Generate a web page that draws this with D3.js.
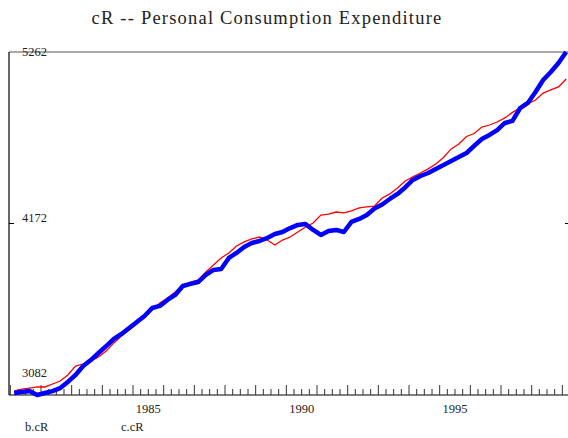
<!DOCTYPE html>
<html>
<head>
<meta charset="utf-8">
<script src="https://cdn.jsdelivr.net/npm/d3@7"></script>
<style>
  body { margin: 0; background: #fff; }
  text { font-family: "Liberation Serif", "Times New Roman", serif; fill: #222; }
</style>
</head>
<body>
<svg id="chart" width="568" height="438"></svg>
<script>
// quarterly, 1981Q1 .. 1999Q1
const startYear = 1981;
const bcR = [3107, 3120, 3126, 3133, 3133, 3152, 3171, 3209, 3266, 3279, 3298, 3324,
  3362, 3413, 3457, 3495, 3533, 3578, 3622, 3667, 3699, 3737, 3781, 3800,
  3813, 3864, 3908, 3953, 3985, 4029, 4055, 4074, 4086, 4067, 4035, 4067,
  4086, 4118, 4150, 4175, 4226, 4232, 4245, 4239, 4252, 4271, 4277, 4283,
  4334, 4360, 4398, 4442, 4468, 4493, 4519, 4550, 4592, 4646, 4677, 4725,
  4744, 4785, 4798, 4817, 4843, 4878, 4906, 4932, 4957, 5001, 5021, 5040, 5090];
const ccR = [3095, 3101, 3107, 3082, 3095, 3107, 3126, 3165, 3209, 3266, 3304, 3349,
  3393, 3438, 3470, 3508, 3546, 3584, 3635, 3648, 3686, 3718, 3775, 3788,
  3800, 3845, 3877, 3883, 3953, 3985, 4023, 4048, 4061, 4080, 4105, 4118,
  4143, 4163, 4169, 4131, 4099, 4124, 4131, 4118, 4182, 4201, 4226, 4267,
  4293, 4328, 4360, 4401, 4449, 4474, 4493, 4519, 4544, 4569, 4595, 4620,
  4665, 4709, 4735, 4766, 4811, 4824, 4906, 4938, 5008, 5084, 5135, 5192, 5262];
const yTicks = [3082, 4172, 5262];
const yearLabels = [1985, 1990, 1995];
const seriesNames = ["b.cR", "c.cR"];

const svg = d3.select("#chart");
const plotL = 9, plotR = 568, plotT = 52, plotB = 395;

const x = d3.scaleLinear().domain([1985, 1997]).range([133, 501]);
const y = d3.scaleLinear().domain([3082, 5262]).range([plotB, plotT]);

const qx = i => x(startYear + (i + 0.5) / 4);

// title
svg.append("text")
  .attr("x", 267).attr("y", 24)
  .attr("text-anchor", "middle")
  .attr("font-size", 18.5)
  .attr("letter-spacing", 1.2)
  .text("cR -- Personal Consumption Expenditure");

// frame
svg.append("line").attr("x1", plotL).attr("x2", plotR).attr("y1", plotT).attr("y2", plotT)
  .attr("stroke", "#555").attr("stroke-width", 1);
svg.append("line").attr("x1", plotL).attr("x2", plotL).attr("y1", plotT).attr("y2", plotB)
  .attr("stroke", "#000").attr("stroke-width", 1.2);
svg.append("line").attr("x1", plotL).attr("x2", plotR).attr("y1", plotB).attr("y2", plotB)
  .attr("stroke", "#000").attr("stroke-width", 1.2);

// y ticks and labels
svg.append("line").attr("x1", plotL).attr("x2", plotL + 5)
  .attr("y1", y(4172)).attr("y2", y(4172)).attr("stroke", "#000");
svg.append("line").attr("x1", plotR - 3).attr("x2", plotR)
  .attr("y1", y(4172)).attr("y2", y(4172)).attr("stroke", "#000");
svg.selectAll(".ylab").data(yTicks).enter().append("text")
  .attr("class", "ylab")
  .attr("x", 22)
  .attr("y", d => d === 3082 ? y(d) - 18 : (d === 5262 ? y(d) + 4 : y(d) - 2))
  .attr("font-size", 12.5)
  .text(d => d);

// x ticks: quarters, taller at year starts
const quarterTicks = d3.range(0, 73).map(i => startYear + i / 4);
svg.selectAll(".xtick").data(quarterTicks).enter().append("line")
  .attr("class", "xtick")
  .attr("x1", d => x(d)).attr("x2", d => x(d))
  .attr("y1", (d, i) => i % 4 === 0 ? plotB - 10 : plotB - 6)
  .attr("y2", plotB)
  .attr("stroke", "#333").attr("stroke-width", 1);

svg.selectAll(".xlab").data(yearLabels).enter().append("text")
  .attr("class", "xlab")
  .attr("x", d => x(d + 0.5))
  .attr("y", plotB + 18)
  .attr("text-anchor", "middle")
  .attr("font-size", 12.5)
  .text(d => d);

// lines
const line = d3.line().x((d, i) => qx(i)).y(d => y(d));
svg.append("path").datum(bcR)
  .attr("fill", "none").attr("stroke", "#ff0000").attr("stroke-width", 1.3)
  .attr("d", line);
svg.append("path").datum(ccR)
  .attr("fill", "none").attr("stroke", "#0000ff").attr("stroke-width", 4.5)
  .attr("stroke-linejoin", "round")
  .attr("d", line);

// legend labels
svg.selectAll(".leg").data(seriesNames).enter().append("text")
  .attr("class", "leg")
  .attr("x", (d, i) => 25 + i * 96)
  .attr("y", 431)
  .attr("font-size", 12.5)
  .text(d => d);
</script>
</body>
</html>
